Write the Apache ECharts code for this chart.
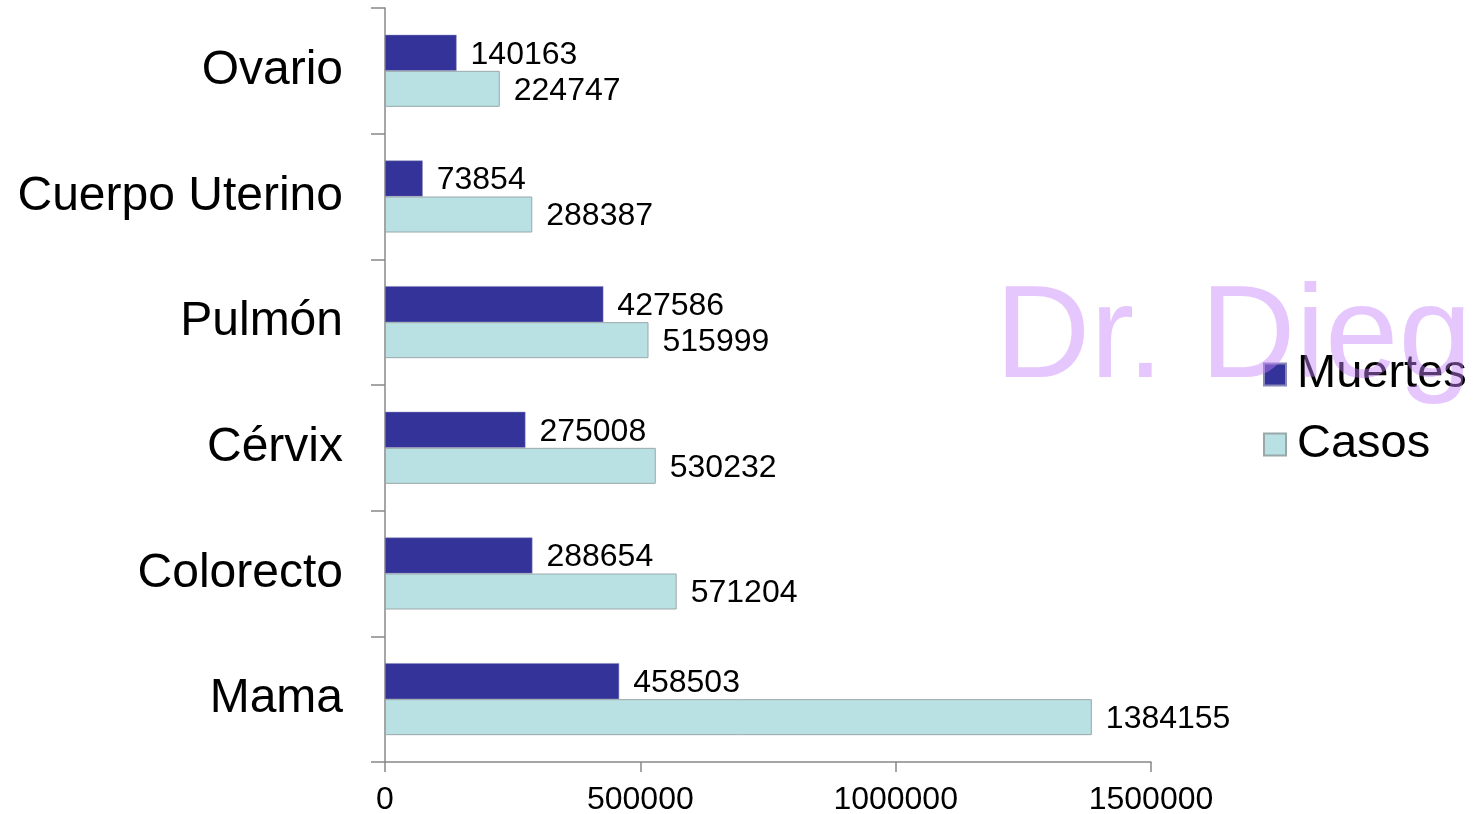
<!DOCTYPE html>
<html>
<head>
<meta charset="utf-8">
<script src="https://cdn.jsdelivr.net/npm/echarts@6/dist/echarts.min.js"></script>
<style>html,body{margin:0;padding:0;background:#fff}#c{width:1476px;height:814px}</style>
</head>
<body>
<div id="c"></div>
<script>
const categories = ['Mama', 'Colorecto', 'Cérvix', 'Pulmón', 'Cuerpo Uterino', 'Ovario'];
const muertes = [458503, 288654, 275008, 427586, 73854, 140163];
const casos = [1384155, 571204, 530232, 515999, 288387, 224747];
const xTicks = { min: 0, max: 1500000, interval: 500000 };

const FONT = '"Liberation Sans", Arial, sans-serif';
const chart = echarts.init(document.getElementById('c'));
chart.setOption({
  animation: false,
  textStyle: { fontFamily: FONT },
  grid: { left: 385, top: 8, right: 325, bottom: 52, outerBoundsMode: 'none', containLabel: false },
  legend: {
    orient: 'vertical', left: 1258, top: 346,
    data: ['Muertes', 'Casos'],
    icon: 'rect', itemWidth: 22, itemHeight: 22, itemGap: 23,
    textStyle: { fontSize: 47, color: '#000', fontFamily: FONT, lineHeight: 46, padding: [0, 0, 0, 6] }
  },
  xAxis: {
    type: 'value', min: xTicks.min, max: xTicks.max, interval: xTicks.interval,
    splitLine: { show: false },
    axisLine: { show: true, lineStyle: { color: '#888', width: 1.5 } },
    axisTick: { show: true, length: 10, lineStyle: { color: '#888', width: 1.5 } },
    axisLabel: { fontSize: 32, color: '#000', margin: 22, fontFamily: FONT, formatter: v => String(v) }
  },
  yAxis: {
    type: 'category', data: categories,
    axisLine: { show: true, lineStyle: { color: '#888', width: 1.5 } },
    axisTick: { show: true, length: 14, lineStyle: { color: '#888', width: 1.5 } },
    axisLabel: { fontSize: 48, color: '#000', margin: 42, fontFamily: FONT }
  },
  series: [
    {
      name: 'Muertes', type: 'bar', data: muertes, barWidth: 36, barGap: '0%',
      itemStyle: { color: '#333399', borderColor: '#8888bb', borderWidth: 0.5 },
      label: { show: true, position: 'right', distance: 14, offset: [0, 2], fontSize: 32, color: '#000', fontFamily: FONT }
    },
    {
      name: 'Casos', type: 'bar', data: casos, barWidth: 36, barGap: '0%',
      itemStyle: { color: '#b9e0e3', borderColor: '#9aa8aa', borderWidth: 1 },
      label: { show: true, position: 'right', distance: 14, offset: [0, 2], fontSize: 32, color: '#000', fontFamily: FONT }
    }
  ],
  graphic: [{
    type: 'text', left: 995, top: 275, z: 100, silent: true,
    style: { text: 'Dr. Diego', fontSize: 132, fontFamily: FONT, fill: 'rgba(200,130,250,0.45)' }
  }]
});
</script>
</body>
</html>
